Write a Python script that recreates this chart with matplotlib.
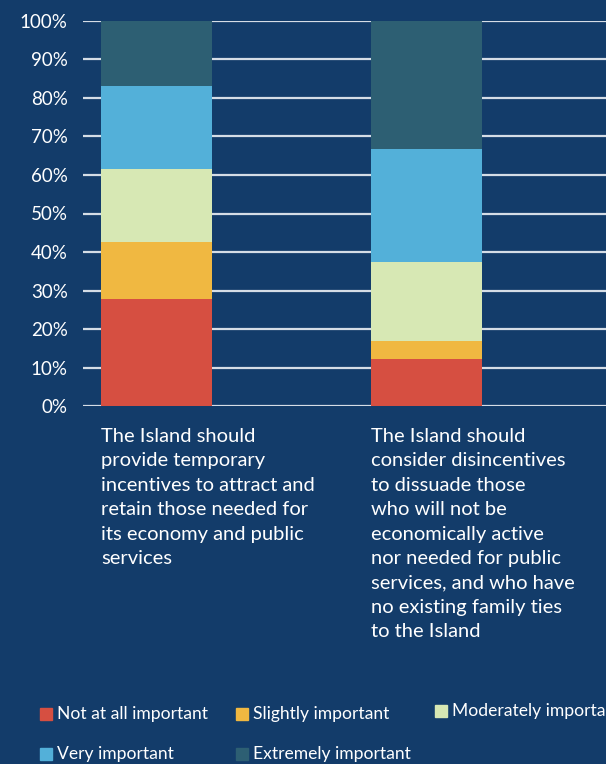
import numpy as np
import matplotlib
matplotlib.use("Agg")
import matplotlib.pyplot as plt
from matplotlib.patches import Rectangle

plt.rcParams['font.family'] = ['Lato', 'DejaVu Sans']

# data
categories = [
    "The Island should\nprovide temporary\nincentives to attract and\nretain those needed for\nits economy and public\nservices",
    "The Island should\nconsider disincentives\nto dissuade those\nwho will not be\neconomically active\nnor needed for public\nservices, and who have\nno existing family ties\nto the Island",
]
levels = ["Not at all important", "Slightly important", "Moderately important",
          "Very important", "Extremely important"]
not_at_all = [27.8, 12.3]
slightly = [14.8, 4.6]
moderately = [18.9, 20.5]
very = [21.6, 29.3]
extremely = [16.9, 33.3]
yticks = [0, 10, 20, 30, 40, 50, 60, 70, 80, 90, 100]

series = [not_at_all, slightly, moderately, very, extremely]
colors = ['#d64f41', '#f0b841', '#d7e8b4', '#53b0d9', '#2d5f73']
bg = '#133c6a'

W, H = 606, 764
fig = plt.figure(figsize=(W / 100, H / 100), dpi=100, facecolor=bg)
ax = fig.add_axes([83 / W, (H - 406.3) / H, 1 - 83 / W, 385.6 / H])
ax.set_facecolor(bg)

x = np.arange(len(categories))
bottom = np.zeros(len(categories))
for vals, col, lab in zip(series, colors, levels):
    ax.bar(x, vals, width=0.411, bottom=bottom, color=col, label=lab, zorder=3)
    bottom += np.array(vals)

ax.set_xlim(-0.272, 1.665)
ax.set_ylim(0, 100)
ax.set_yticks(yticks)
ax.set_yticklabels([f"{t}%" for t in yticks], color='white', fontsize=13.5)
ax.tick_params(axis='y', length=0, pad=11)
ax.set_xticks([])
for s in ax.spines.values():
    s.set_visible(False)
for t in yticks:
    ax.axhline(t, color='#d5dde6', lw=1.6, zorder=1)

# category labels under bars
for xi, txt in zip(x, categories):
    px = ax.transData.transform((xi - 0.205, 0))[0]
    fig.text(px / W, 1 - 428 / H, txt, color='white', fontsize=14.5,
             ha='left', va='top', linespacing=1.53)

# legend drawn by hand
leg_pos = [(40, 714), (236, 714), (435, 711), (40, 754), (236, 754)]
for (lx, ly), col, lab in zip(leg_pos, colors, levels):
    fig.add_artist(Rectangle((lx / W, 1 - (ly + 6) / H), 12 / W, 12 / H,
                             transform=fig.transFigure, color=col))
    fig.text((lx + 17) / W, 1 - ly / H, lab, color='white', fontsize=12.6,
             ha='left', va='center')

plt.savefig("out.png", dpi=100, facecolor=bg)
